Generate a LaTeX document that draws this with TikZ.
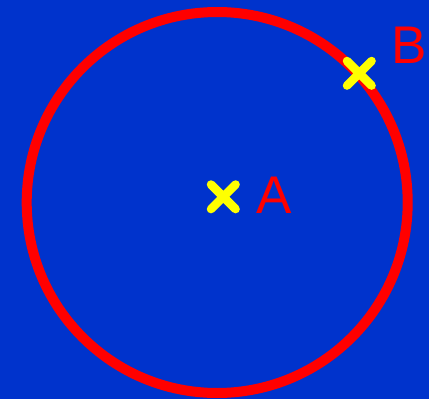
\documentclass[tikz,border=0pt]{standalone}
\usepackage{fontspec}
\setmainfont{Liberation Sans}
\definecolor{bgblue}{RGB}{0,51,204}
\definecolor{cred}{RGB}{255,0,0}
\definecolor{cyellow}{RGB}{255,255,0}
\tikzset{
  ring/.style={draw=cred,line width=10pt},
  xmark/.style={draw=cyellow,line width=8.5pt,line cap=round},
  lbl/.style={text=cred,font=\fontsize{53}{53}\selectfont,inner sep=0pt,anchor=base west}
}
\begin{document}
\begin{tikzpicture}[x=1pt,y=-1pt]
\fill[bgblue] (0,0) rectangle (429,399);
\useasboundingbox (0,0) rectangle (429,399);
\coordinate (O) at (217.2,202.5);
\draw[ring] (O) circle[radius=190.5];
\coordinate (A) at (223.3,196.8);
\coordinate (B) at (359.3,73.3);
\draw[xmark] ([shift={(-12.3,-12.3)}]A) -- ([shift={(12.3,12.3)}]A)
             ([shift={(-12.3,12.3)}]A) -- ([shift={(12.3,-12.3)}]A);
\draw[xmark] ([shift={(-12.3,-12.3)}]B) -- ([shift={(12.3,12.3)}]B)
             ([shift={(-12.3,12.3)}]B) -- ([shift={(12.3,-12.3)}]B);
\node[lbl] (la) at (256.5,213.3) {A};
\node[lbl] (lb) at (391,63.3) {B};
\end{tikzpicture}
\end{document}
